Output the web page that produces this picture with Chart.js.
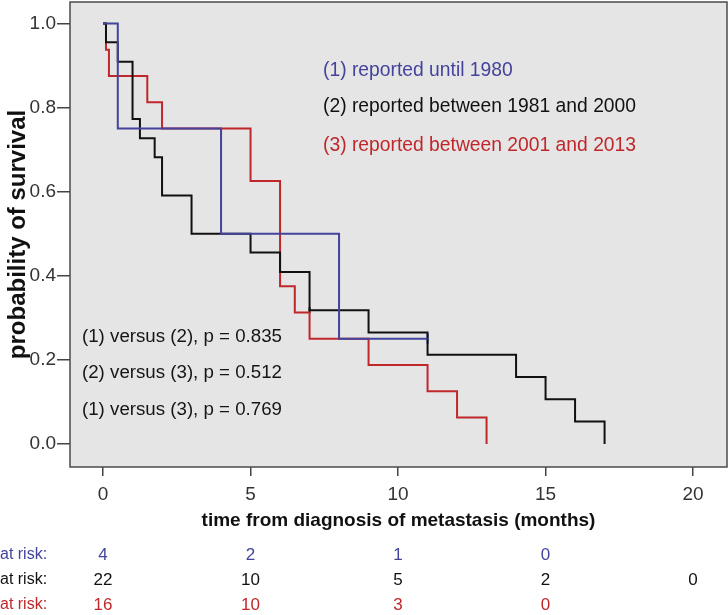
<!DOCTYPE html>
<html>
<head>
<meta charset="utf-8">
<script src="https://cdn.jsdelivr.net/npm/chart.js@4.4.1/dist/chart.umd.min.js"></script>
<style>
  html, body { margin: 0; padding: 0; background: #ffffff; }
  #wrap { width: 728px; height: 615px; }
</style>
</head>
<body>
<div id="wrap"><canvas id="c" width="728" height="615"></canvas></div>
<script>
// ---- data ----
const xTicks = [0, 5, 10, 15, 20];
const yTicks = [0, 0.2, 0.4, 0.6, 0.8, 1.0];

const timesG1 = [0, 0.5, 4, 8, 11];
const survG1  = [1.0, 0.75, 0.5, 0.25, 0.25];

const timesG2 = [0, 0.1, 0.5, 1.0, 1.25, 1.75, 2, 3, 5, 6, 7, 9, 11, 14, 15, 16, 17];
const survG2  = [1.0, 0.955, 0.909, 0.773, 0.727, 0.682, 0.591, 0.5, 0.455, 0.409, 0.318, 0.265, 0.212, 0.159, 0.106, 0.053, 0];

const timesG3 = [0, 0.1, 0.2, 1.5, 2, 5, 6, 6.5, 7, 9, 11, 12, 13];
const survG3  = [1.0, 0.9375, 0.875, 0.8125, 0.75, 0.625, 0.375, 0.3125, 0.25, 0.1875, 0.125, 0.0625, 0];

const censorG1T = [11];
const censorG1S = [0.25];
const censorG2T = [7];
const censorG2S = [0.318];

const legendLabels = ["(1) reported until 1980", "(2) reported between 1981 and 2000", "(3) reported between 2001 and 2013"];
const pValueLabels = ["(1) versus (2), p = 0.835", "(2) versus (3), p = 0.512", "(1) versus (3), p = 0.769"];

const riskTimes = [0, 5, 10, 15, 20];
const atRiskG1 = [4, 2, 1, 0];
const atRiskG2 = [22, 10, 5, 2, 0];
const atRiskG3 = [16, 10, 3, 0];

const xTitle = "time from diagnosis of metastasis (months)";
const yTitle = "probability of survival";

// ---- styling ----
const BLUE = '#43439c';
const BLACK = '#111111';
const RED = '#c0272b';
const FONT = '"Liberation Sans", Arial, Helvetica, sans-serif';

function pts(t, s) { return t.map((v, i) => ({ x: v, y: s[i] })); }

function zeroPad(s) { s.paddingTop = 0; s.paddingBottom = 0; s.paddingLeft = 0; s.paddingRight = 0; }

const boxPlugin = {
  id: 'box',
  beforeDraw(chart) {
    const a = chart.chartArea, ctx = chart.ctx;
    ctx.save();
    ctx.fillStyle = '#e5e5e5';
    ctx.fillRect(a.left, a.top, a.right - a.left, a.bottom - a.top);
    ctx.restore();
  },
  afterDraw(chart) {
    const a = chart.chartArea, ctx = chart.ctx;
    const xs = chart.scales.x;
    ctx.save();
    ctx.strokeStyle = '#4a4a4a';
    ctx.lineWidth = 1.5;
    ctx.strokeRect(a.left, a.top, a.right - a.left, a.bottom - a.top);

    // legend texts
    ctx.textBaseline = 'middle';
    ctx.textAlign = 'left';
    ctx.font = '19.3px ' + FONT;
    const lc = [BLUE, BLACK, RED];
    const ly = [71, 107, 146];
    legendLabels.forEach((t, i) => {
      ctx.fillStyle = lc[i];
      ctx.fillText(t, 323, ly[i]);
    });
    // p-values
    ctx.fillStyle = '#151515';
    ctx.font = '18.7px ' + FONT;
    const py = [337, 373, 410];
    pValueLabels.forEach((t, i) => ctx.fillText(t, 82, py[i]));

    // at-risk table
    const rows = [[atRiskG1, BLUE, 555], [atRiskG2, BLACK, 580], [atRiskG3, RED, 605]];
    rows.forEach(([vals, col, y]) => {
      ctx.fillStyle = col;
      ctx.font = '16px ' + FONT;
      ctx.textAlign = 'left';
      ctx.fillText('at risk:', 0, y);
      ctx.font = '17px ' + FONT;
      ctx.textAlign = 'center';
      vals.forEach((v, i) => ctx.fillText(String(v), xs.getPixelForValue(riskTimes[i]), y));
    });
    ctx.restore();
  }
};

new Chart(document.getElementById('c'), {
  type: 'line',
  data: {
    datasets: [
      { label: legendLabels[0], data: pts(timesG1, survG1), borderColor: BLUE, borderWidth: 2, stepped: 'before', pointRadius: 0, fill: false },
      { label: legendLabels[1], data: pts(timesG2, survG2), borderColor: BLACK, borderWidth: 2, stepped: 'before', pointRadius: 0, fill: false },
      { label: legendLabels[2], data: pts(timesG3, survG3), borderColor: RED, borderWidth: 2, stepped: 'before', pointRadius: 0, fill: false },
      { type: 'scatter', data: pts(censorG1T, censorG1S), pointStyle: 'line', rotation: 90, pointRadius: 5, borderColor: BLUE, pointBorderWidth: 2, showLine: false },
      { type: 'scatter', data: pts(censorG2T, censorG2S), pointStyle: 'line', rotation: 90, pointRadius: 3, borderColor: BLACK, pointBorderWidth: 2, showLine: false }
    ]
  },
  options: {
    responsive: false,
    animation: false,
    devicePixelRatio: 1,
    layout: { autoPadding: false, padding: { top: 2, right: 1, left: 0, bottom: 73 } },
    plugins: { legend: { display: false }, tooltip: { enabled: false } },
    scales: {
      x: {
        type: 'linear',
        min: -1.12, max: 21.15,
        afterFit(s) { s.height = 75; zeroPad(s); },
        afterBuildTicks(s) { s.ticks = xTicks.map(v => ({ value: v })); },
        border: { display: false },
        grid: { drawOnChartArea: false, drawTicks: true, tickLength: 9, color: '#444', lineWidth: 1.5 },
        ticks: { color: '#333', font: { family: FONT, size: 19 }, padding: 7, maxRotation: 0 },
        title: { display: true, text: xTitle, color: '#111', font: { family: FONT, size: 19, weight: 'bold' }, padding: { top: 10, bottom: 10 } }
      },
      y: {
        type: 'linear',
        min: -0.055, max: 1.051,
        afterFit(s) { s.width = 70; zeroPad(s); },
        afterBuildTicks(s) { s.ticks = yTicks.map(v => ({ value: v })); },
        border: { display: false },
        grid: { drawOnChartArea: false, drawTicks: true, tickLength: 13, color: '#444', lineWidth: 1.5 },
        ticks: { color: '#333', font: { family: FONT, size: 19 }, padding: 1, callback: v => Number(v).toFixed(1) },
        title: { display: true, text: yTitle, color: '#111', font: { family: FONT, size: 24, weight: 'bold' }, padding: { top: 4, bottom: 4 } }
      }
    }
  },
  plugins: [boxPlugin]
});
</script>
</body>
</html>
